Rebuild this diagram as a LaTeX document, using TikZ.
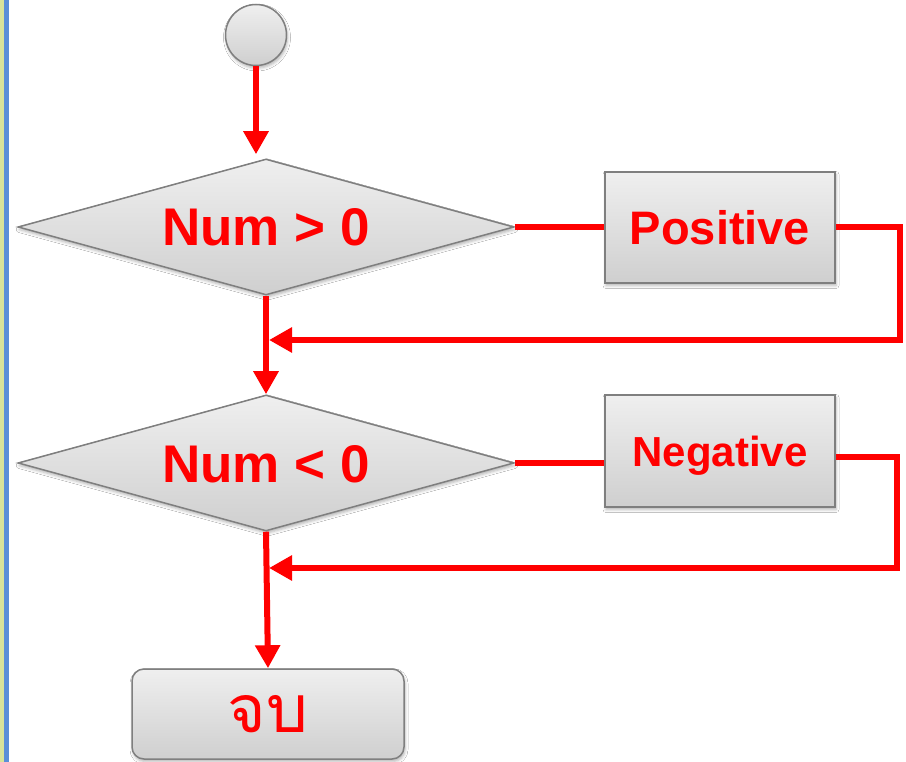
\documentclass[tikz,border=0pt]{standalone}
\usepackage{fontspec}
\setmainfont{Liberation Sans}
\newfontfamily\thaifont[Script=Thai]{Loma}
\usetikzlibrary{shapes.geometric,arrows.meta,shadows.blur}
\definecolor{boxline}{HTML}{7F7F7F}
\definecolor{boxtop}{HTML}{EFEFEF}
\definecolor{boxbot}{HTML}{CFCFCF}
\definecolor{flowred}{HTML}{FF0000}
\definecolor{stripyellow}{HTML}{D8E39A}
\definecolor{stripblue}{HTML}{5A8FD8}
\begin{document}
\begin{tikzpicture}[x=1pt,y=-1pt,
  grayshape/.style={draw=boxline, line width=1.5pt, top color=boxtop, bottom color=boxbot,
    blur shadow={shadow xshift=1pt, shadow yshift=-2.5pt, shadow blur radius=3pt, shadow opacity=30},
    inner sep=0pt},
  flow/.style={draw=flowred, line width=6pt, line join=miter},
  flowarrow/.style={flow, -{Triangle[length=23pt,width=24pt]}}]

\useasboundingbox (0,0) rectangle (906,762);
\fill[white] (0,0) rectangle (906,762);
\fill[stripyellow] (0,0) rectangle (3.7,762);
\fill[stripblue] (3.7,0) rectangle (9,762);

\node[grayshape, circle, minimum size=61pt] (start) at (256,35) {};

\node[grayshape, diamond, shape aspect=3.65, minimum width=496pt, minimum height=136pt,
  text=flowred, font=\bfseries\fontsize{53}{60}\selectfont, text height=38pt, text depth=0pt]
  (d1) at (266,227) {Num > 0};
\node[grayshape, diamond, shape aspect=3.65, minimum width=496pt, minimum height=136pt,
  text=flowred, font=\bfseries\fontsize{53}{60}\selectfont, text height=38pt, text depth=0pt]
  (d2) at (266,463) {Num < 0};

\node[grayshape, rectangle, minimum width=230pt, minimum height=111pt,
  text=flowred, font=\bfseries\fontsize{47}{54}\selectfont, text height=33.6pt, text depth=0pt]
  (pos) at (720,227.5) {Positive};
\node[grayshape, rectangle, minimum width=230pt, minimum height=112pt,
  text=flowred, font=\bfseries\fontsize{42}{50}\selectfont, text height=30pt, text depth=0pt]
  (neg) at (720,451) {Negative};

\node[grayshape, rectangle, rounded corners=12pt, minimum width=272pt, minimum height=90pt,
  text=flowred, font=\thaifont\fontsize{66}{76}\selectfont]
  (end) at (268,714) {จบ};

\coordinate (c1) at (900,340);
\coordinate (m1) at (269,340);
\coordinate (c2) at (897,568);
\coordinate (m2) at (269,568);

\draw[flowarrow] (start.south) -- ([yshift=4pt]start.south |- d1.north);
\draw[flowarrow] (d1.south) -- (d2.north);
\draw[flow] (d1.east) -- (d1.east -| pos.west);
\draw[flowarrow] (pos.east) -| (c1) -- (m1);
\draw[flow] (d2.east) -- (d2.east -| neg.west);
\draw[flowarrow] ([yshift=-6pt]neg.east) -| (c2) -- (m2);
\draw[flowarrow] (d2.south) -- (end.north);
\end{tikzpicture}
\end{document}
